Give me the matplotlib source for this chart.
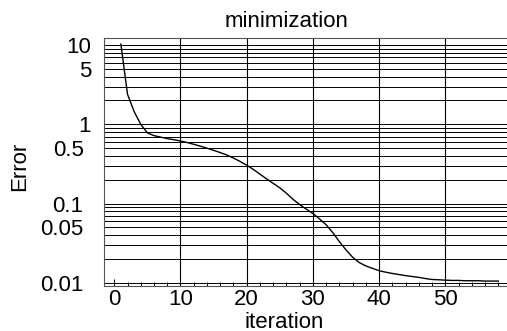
import matplotlib
matplotlib.use("Agg")
import matplotlib.pyplot as plt
import matplotlib.ticker as mticker
import matplotlib.transforms as mtransforms

# data
iteration = list(range(1, 59))
error = [
    10.3, 2.4, 1.45, 1.0, 0.78, 0.72, 0.69, 0.66, 0.64, 0.615,
    0.59, 0.56, 0.53, 0.50, 0.47, 0.44, 0.41, 0.375, 0.34, 0.305,
    0.27, 0.235, 0.205, 0.18, 0.158, 0.135, 0.113, 0.097, 0.085, 0.075,
    0.064, 0.054, 0.043, 0.033, 0.026, 0.021, 0.018, 0.0163, 0.0152, 0.0142,
    0.0136, 0.0131, 0.0127, 0.0123, 0.0120, 0.0117, 0.0113, 0.0110, 0.0109, 0.0108,
    0.0107, 0.0107, 0.0106, 0.0106, 0.0106, 0.0105, 0.0105, 0.0105,
]
y_labelled = [0.01, 0.05, 0.1, 0.5, 1, 5, 10]
y_labels = ["0.01", "0.05", "0.1", "0.5", "1", "5", "10"]
x_major = [0, 10, 20, 30, 40, 50]

FONT = "Liberation Sans"
FS = 16
W, H = 507, 331

fig = plt.figure(figsize=(W / 100, H / 100), dpi=100, facecolor="white")
ax = fig.add_axes([104 / W, (H - 286) / H, 407.5 / W, 248 / H])

ax.plot(iteration, error, color="black", linewidth=1.0, zorder=3)

ax.set_yscale("log")
ax.set_ylim(0.0091, 12.3)
ax.set_xlim(-1.55, 60)

# y: grid at every 1..9 x decade, labels drawn by hand below
ax.yaxis.set_major_locator(mticker.FixedLocator(y_labelled))
ax.yaxis.set_major_formatter(mticker.NullFormatter())
ax.yaxis.set_minor_locator(mticker.LogLocator(base=10, subs=range(1, 10)))
ax.yaxis.set_minor_formatter(mticker.NullFormatter())
ax.grid(True, axis="y", which="both", color="black", linewidth=0.7)

# decimals sit a digit further left than the whole numbers
trans = mtransforms.blended_transform_factory(fig.transFigure, ax.transData)
for val, txt in zip(y_labelled, y_labels):
    right = 83.5 if "." in txt else 91
    ax.text(right / W, val, txt, transform=trans, ha="right",
            va="center_baseline", fontsize=FS, fontfamily=FONT, clip_on=False)

# x: major ticks every 10, minor every 2, ticks inward
ax.xaxis.set_major_locator(mticker.FixedLocator(x_major))
ax.xaxis.set_minor_locator(mticker.MultipleLocator(2))
ax.grid(True, axis="x", which="major", color="black", linewidth=0.8)
ax.xaxis.get_gridlines()[0].set_visible(False)

ax.tick_params(axis="x", which="both", direction="in", top=False,
               color="black", width=0.7, pad=2)
ax.tick_params(axis="x", which="major", length=5)
ax.tick_params(axis="x", which="minor", length=3)
ax.tick_params(axis="y", which="both", length=0)
ax.tick_params(labelsize=FS)
for lbl in ax.get_xticklabels():
    lbl.set_fontfamily(FONT)

for name, sp in ax.spines.items():
    sp.set_color("#555555")
    sp.set_linewidth(0.8)
ax.spines["right"].set_visible(False)

fig.text(286 / W, 1 - 27 / H, "minimization", ha="center", va="baseline",
         fontsize=FS, fontfamily=FONT)
fig.text(284 / W, 1 - 327.5 / H, "iteration", ha="center", va="baseline",
         fontsize=FS, fontfamily=FONT)
fig.text(20 / W, 1 - 166 / H, "Error", ha="center", va="center",
         rotation=90, fontsize=FS, fontfamily=FONT)

fig.savefig("out.png", dpi=100, facecolor="white")
